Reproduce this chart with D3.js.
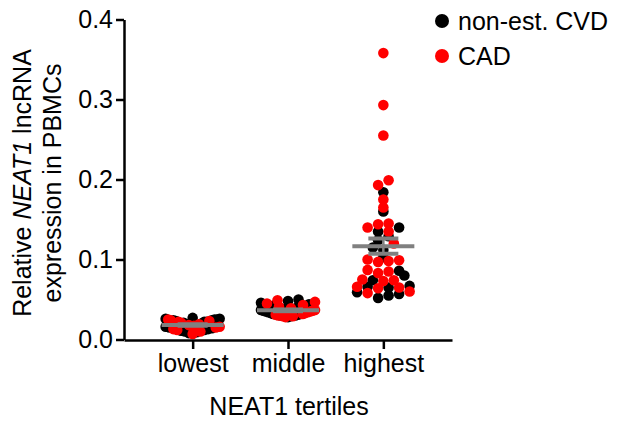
<!DOCTYPE html>
<html>
<head>
<meta charset="utf-8">
<script src="https://cdn.jsdelivr.net/npm/d3@7"></script>
<style>
  html, body { margin: 0; padding: 0; background: #fff; }
  svg { display: block; font-family: Arial, "Liberation Sans", sans-serif; }
</style>
</head>
<body>
<svg id="chart" width="620" height="421"></svg>
<script>
// ---- data ----
const categories = ["lowest", "middle", "highest"];
const seriesNames = ["non-est. CVD", "CAD"];
const seriesColors = ["#000000", "#ff0000"];
const yTicks = [0, 0.1, 0.2, 0.3, 0.4];

// non-est. CVD (black)
const cvdLowest = [0.027,0.026,0.026,0.025,0.025,0.024,0.024,0.023,0.022,0.022,0.021,0.020,0.019,0.018,0.017,0.016,0.015,0.014,0.013,0.012,0.011,0.010,0.009,0.008];
const cvdMiddle = [0.050,0.048,0.046,0.044,0.042,0.040,0.038,0.037,0.036,0.035,0.034,0.033,0.032,0.031,0.030,0.029,0.028,0.030,0.032];
const cvdHighest = [0.184,0.160,0.140,0.135,0.124,0.129,0.115,0.112,0.103,0.086,0.080,0.074,0.067,0.066,0.065,0.059,0.057,0.055,0.052];
// CAD (red)
const cadLowest = [0.025,0.024,0.023,0.022,0.021,0.019,0.018,0.017,0.016,0.015,0.013,0.012,0.010,0.007];
const cadMiddle = [0.049,0.047,0.045,0.043,0.041,0.039,0.037,0.036,0.035,0.034,0.033,0.032,0.031,0.030,0.029,0.028,0.029];
const cadHighest = [0.358,0.293,0.255,0.199,0.193,0.175,0.165,0.144,0.145,0.140,0.135,0.120,0.100,0.099,0.098,0.097,0.087,0.085,0.083,0.075,0.074,0.073,0.066,0.065,0.064,0.060,0.058];

const cvdByGroup = [cvdLowest, cvdMiddle, cvdHighest];
const cadByGroup = [cadLowest, cadMiddle, cadHighest];

// ---- layout ----
const FS = 25;
const svg = d3.select("#chart");
const x = d3.scalePoint().domain(categories).range([124, 452]).padding(0.72);
const y = d3.scaleLinear().domain([0, 0.4]).range([339.5, 19.5]);

const R = 5.3;           // dot radius
const maxHalf = 27;      // max horizontal offset of dot centres
const gap = 10.5;        // preferred spacing within a row
const binPx = 8;         // row height

// GraphPad-like row scatter: points binned into rows, spread symmetrically, lowest values nearest centre
const points = [];
categories.forEach((cat, gi) => {
  const pts = [];
  cvdByGroup[gi].forEach(v => pts.push({cat, v, s: 0}));
  cadByGroup[gi].forEach(v => pts.push({cat, v, s: 1}));
  const minPx = d3.max(pts, p => y(p.v));
  const bins = d3.groups(pts, p => Math.floor((minPx - y(p.v)) / binPx));
  bins.forEach(([, arr]) => {
    arr.sort((a, b) => a.v - b.v || a.s - b.s);
    const k = arr.length;
    const sp = k > 1 ? Math.min(gap, (2 * maxHalf) / (k - 1)) : 0;
    const slots = d3.range(k).map(i => (i - (k - 1) / 2) * sp);
    slots.sort((a, b) => Math.abs(a) - Math.abs(b) || a - b);
    // alternate sides so neighbouring values land left/right
    const ordered = [];
    for (let i = 0; i < k; i += 2) {
      if (i + 1 < k && Math.abs(slots[i]) === Math.abs(slots[i + 1])) {
        ordered.push((i / 2) % 2 === 0 ? slots[i] : slots[i + 1]);
        ordered.push((i / 2) % 2 === 0 ? slots[i + 1] : slots[i]);
      } else {
        ordered.push(slots[i]);
        if (i + 1 < k) ordered.push(slots[i + 1]);
      }
    }
    arr.forEach((p, i) => { p.dx = ordered[i]; });
  });
  pts.forEach(p => points.push(p));
});

// dots: black first then red
const dots = svg.append("g");
[0, 1].forEach(s => {
  dots.selectAll(null)
    .data(points.filter(p => p.s === s))
    .enter().append("circle")
    .attr("cx", p => x(p.cat) + p.dx)
    .attr("cy", p => y(p.v))
    .attr("r", R)
    .attr("fill", seriesColors[s]);
});

// mean ± SEM
const stats = categories.map((cat, gi) => {
  const all = cvdByGroup[gi].concat(cadByGroup[gi]);
  const m = d3.mean(all);
  const sem = d3.deviation(all) / Math.sqrt(all.length);
  return {cat, m, sem};
});
const gStats = svg.append("g").attr("stroke", "#808080").attr("stroke-width", 4);
stats.forEach(st => {
  const cx = x(st.cat);
  gStats.append("line").attr("x1", cx - 31).attr("x2", cx + 31).attr("y1", y(st.m)).attr("y2", y(st.m));
  gStats.append("line").attr("x1", cx - 15).attr("x2", cx + 15).attr("y1", y(st.m + st.sem)).attr("y2", y(st.m + st.sem));
  gStats.append("line").attr("x1", cx - 15).attr("x2", cx + 15).attr("y1", y(st.m - st.sem)).attr("y2", y(st.m - st.sem));
  gStats.append("line").attr("x1", cx).attr("x2", cx).attr("y1", y(st.m - st.sem)).attr("y2", y(st.m + st.sem)).attr("stroke-width", 2.5);
});

// axes
const yAxis = svg.append("g").attr("transform", "translate(124,0)")
  .call(d3.axisLeft(y).tickValues(yTicks).tickFormat(d3.format(".1f")).tickSize(8).tickSizeOuter(0).tickPadding(3));
const xAxis = svg.append("g").attr("transform", "translate(0,340)")
  .call(d3.axisBottom(x).tickSize(9).tickSizeOuter(0).tickPadding(5));
[yAxis, xAxis].forEach(a => {
  a.select(".domain").attr("stroke", "#000").attr("stroke-width", 2.5);
  a.selectAll(".tick line").attr("stroke", "#000").attr("stroke-width", 2.5);
  a.selectAll(".tick text").attr("fill", "#000").style("font-size", FS + "px")
    .style("font-family", "Arial, 'Liberation Sans', sans-serif");
});

// axis titles
svg.append("text").attr("x", 289).attr("y", 415).attr("text-anchor", "middle")
  .style("font-size", FS + "px").text("NEAT1 tertiles");

const yt = svg.append("text").attr("transform", "translate(0,183) rotate(-90)")
  .attr("text-anchor", "middle").style("font-size", FS + "px");
const l1 = yt.append("tspan").attr("x", 0).attr("y", 31);
l1.append("tspan").text("Relative ");
l1.append("tspan").style("font-style", "italic").text("NEAT1");
l1.append("tspan").text(" lncRNA");
yt.append("tspan").attr("x", 0).attr("y", 61).text("expression in PBMCs");

// legend
const leg = svg.append("g");
seriesNames.forEach((name, i) => {
  leg.append("circle").attr("cx", 442).attr("cy", 21 + i * 35).attr("r", 7).attr("fill", seriesColors[i]);
  leg.append("text").attr("x", 458).attr("y", 30 + i * 35).style("font-size", FS + "px").text(name);
});
</script>
</body>
</html>
